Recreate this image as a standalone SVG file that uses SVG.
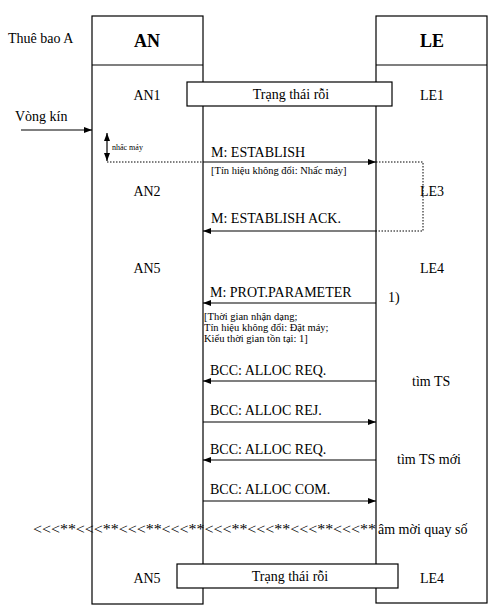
<svg xmlns="http://www.w3.org/2000/svg" width="497" height="610" viewBox="0 0 497 610">
<style>
text{font-family:"Liberation Serif","Times New Roman",serif;fill:#000}
.t{font-size:14px}
.h{font-size:18px;font-weight:bold}
.s{font-size:10.5px}
.xs{font-size:8px}
.c{text-anchor:middle}
.ln{stroke:#000;stroke-width:1.2;fill:none}
.dot{stroke:#000;stroke-width:1;stroke-dasharray:1.5,1.5;fill:none}
.box{stroke:#000;stroke-width:1.2;fill:#fff}
</style>
<defs>
<marker id="ah" viewBox="0 0 8 6" refX="8" refY="3" markerWidth="8" markerHeight="6" orient="auto" markerUnits="userSpaceOnUse"><path d="M0,0L8,3L0,6z" fill="#000"/></marker>
</defs>
<rect width="497" height="610" fill="#fff"/>
<g id="AN">
<rect x="92" y="16" width="111" height="588" class="ln"/>
<line x1="92" y1="65" x2="203" y2="65" class="ln"/>
<text x="147" y="47" class="h c">AN</text>
</g>
<g id="LE">
<rect x="376" y="16" width="111" height="587" class="ln"/>
<line x1="376" y1="65" x2="487" y2="65" class="ln"/>
<text x="432" y="47" class="h c">LE</text>
</g>
<text x="8" y="43" class="t">Thuê bao A</text>
<g id="idle1">
<rect x="187" y="82" width="205" height="24" class="box"/>
<text x="291" y="99" class="t c">Trạng thái rỗi</text>
</g>
<g id="states">
<text x="147" y="100" class="t c">AN1</text>
<text x="432" y="100" class="t c">LE1</text>
<text x="147" y="196" class="t c">AN2</text>
<text x="432" y="196" class="t c">LE3</text>
<text x="147" y="273" class="t c">AN5</text>
<text x="432" y="273" class="t c">LE4</text>
<text x="388" y="302" class="t">1)</text>
<text x="412" y="386" class="t">tìm TS</text>
<text x="397" y="464" class="t">tìm TS mới</text>
<text x="15" y="121" class="t">Vòng kín</text>
<text x="112" y="150" class="xs">nhấc máy</text>
</g>
<g id="connectors">
<line x1="21" y1="130" x2="92" y2="130" class="ln" marker-end="url(#ah)"/>
<line x1="107" y1="140" x2="107" y2="133" class="ln" marker-end="url(#ah)"/>
<line x1="107" y1="140" x2="107" y2="161" class="ln" marker-end="url(#ah)"/>
<line x1="105" y1="140" x2="109" y2="140" class="ln"/>
<line x1="107" y1="162" x2="203" y2="162" class="dot"/>
<line x1="203" y1="162" x2="376" y2="162" class="ln" marker-end="url(#ah)"/>
<polyline points="376,162 423,162 423,231 376,231" class="dot"/>
<line x1="376" y1="231" x2="203" y2="231" class="ln" marker-end="url(#ah)"/>
<line x1="376" y1="303" x2="203" y2="303" class="ln" marker-end="url(#ah)"/>
<line x1="376" y1="381" x2="203" y2="381" class="ln" marker-end="url(#ah)"/>
<line x1="203" y1="422" x2="376" y2="422" class="ln" marker-end="url(#ah)"/>
<line x1="376" y1="460" x2="203" y2="460" class="ln" marker-end="url(#ah)"/>
<line x1="203" y1="501" x2="376" y2="501" class="ln" marker-end="url(#ah)"/>
</g>
<g id="labels">
<text x="211" y="157" class="t">M: ESTABLISH</text>
<text x="211" y="174" class="s">[Tín hiệu không đổi: Nhấc máy]</text>
<text x="211" y="223" class="t">M: ESTABLISH ACK.</text>
<text x="210" y="297" class="t">M: PROT.PARAMETER</text>
<text x="204" y="320" class="s">[Thời gian nhận dạng;</text>
<text x="204" y="331" class="s">Tín hiệu không đổi: Đặt máy;</text>
<text x="204" y="342" class="s">Kiểu thời gian tồn tại: 1]</text>
<text x="210" y="375" class="t">BCC: ALLOC REQ.</text>
<text x="210" y="415" class="t">BCC: ALLOC REJ.</text>
<text x="210" y="454" class="t">BCC: ALLOC REQ.</text>
<text x="210" y="494" class="t">BCC: ALLOC COM.</text>
<text x="33" y="534" class="t" textLength="343" lengthAdjust="spacingAndGlyphs">&lt;&lt;&lt;**&lt;&lt;&lt;**&lt;&lt;&lt;**&lt;&lt;&lt;**&lt;&lt;&lt;**&lt;&lt;&lt;**&lt;&lt;&lt;**&lt;&lt;&lt;**</text>
<text x="378" y="534" class="t">âm mời quay số</text>
</g>
<g id="idle2">
<rect x="177" y="564" width="221" height="24" class="box"/>
<text x="290" y="581" class="t c">Trạng thái rỗi</text>
<text x="147" y="583" class="t c">AN5</text>
<text x="432" y="583" class="t c">LE4</text>
</g>
</svg>
